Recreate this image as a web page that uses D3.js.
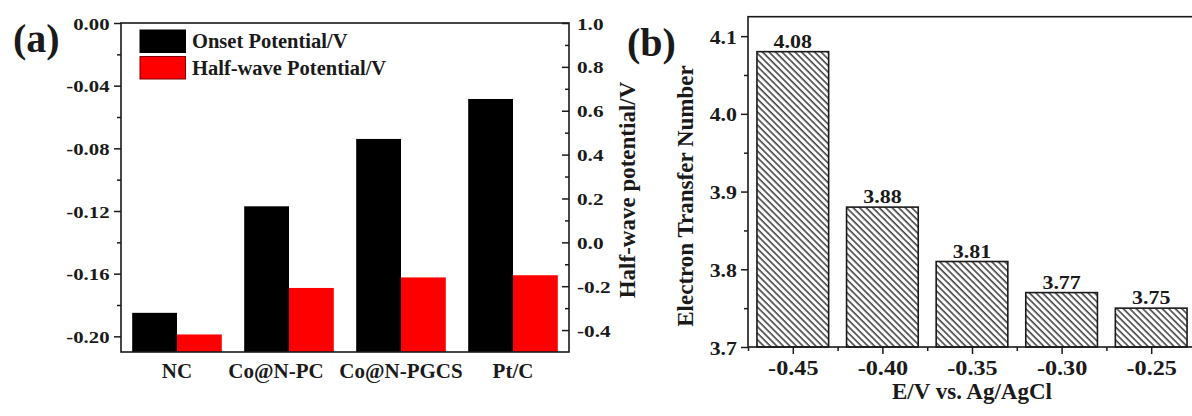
<!DOCTYPE html>
<html>
<head>
<meta charset="utf-8">
<script src="https://cdn.jsdelivr.net/npm/d3@7"></script>
<style>
  body { margin: 0; background: #fff; }
  svg { display: block; font-family: "Liberation Serif", "Times New Roman", serif; font-weight: bold; }
</style>
</head>
<body>
<script>
// panel (a) data
const samples = ["NC", "Co@N-PC", "Co@N-PGCS", "Pt/C"];
const onsetPotential = [-0.185, -0.117, -0.074, -0.0485];
const halfWavePotential = [-0.42, -0.208, -0.16, -0.15];
const legendLabels = ["Onset Potential/V", "Half-wave Potential/V"];
const leftTicks = [0, -0.04, -0.08, -0.12, -0.16, -0.20];
const rightTicks = [1.0, 0.8, 0.6, 0.4, 0.2, 0.0, -0.2, -0.4];

// panel (b) data
const potentials = [-0.45, -0.40, -0.35, -0.30, -0.25];
const electronNumber = [4.08, 3.88, 3.81, 3.77, 3.75];
const bTicksY = [3.7, 3.8, 3.9, 4.0, 4.1];

const colors = ["#000000", "#ff0000"];
const ink = "#1a1a1a";
const fmt = f => d => d3.format(f)(d).replace("\u2212", "-");

const svg = d3.select("body").append("svg")
  .attr("width", 1192)
  .attr("height", 416);

// hatch pattern for panel (b)
svg.append("defs").append("pattern")
  .attr("id", "hatch")
  .attr("patternUnits", "userSpaceOnUse")
  .attr("width", 4.6).attr("height", 10)
  .attr("patternTransform", "rotate(-45)")
  .append("line")
  .attr("x1", 1).attr("x2", 1).attr("y1", 0).attr("y2", 10)
  .attr("stroke", ink).attr("stroke-width", 1.3);

// minor tick group: no labels, no domain line
function styleMinor(g) {
  g.attr("font-family", null).attr("font-size", null);
  g.select(".domain").remove();
  g.selectAll("line").attr("stroke", ink).attr("stroke-width", 1.5);
}

// restyle tick labels (the numerals in the figure are a bit wide)
function styleTicks(g, size, sx, dx, dy, anchor) {
  g.attr("font-family", null).attr("font-size", null);
  g.select(".domain").remove();
  g.selectAll(".tick line").attr("stroke", ink).attr("stroke-width", 1.5);
  g.selectAll(".tick text")
    .attr("x", 0).attr("y", 0).attr("dy", 0)
    .attr("fill", ink)
    .style("font-size", size + "px")
    .attr("text-anchor", anchor)
    .attr("transform", `translate(${dx},${dy}) scale(${sx},1)`);
}

// ---------------- panel (a) ----------------
const a = { left: 121, right: 569, top: 23, bottom: 352 };

const x0 = d3.scaleBand().domain(samples)
  .range([a.left, a.right]).paddingInner(0.2).paddingOuter(0.1);
const x1 = d3.scaleBand().domain([0, 1]).range([0, x0.bandwidth()]);
const yL = d3.scaleLinear().domain([-0.21, 0]).range([a.bottom, a.top]);
const yR = d3.scaleLinear().domain([-0.5, 1.0]).range([a.bottom, a.top]);

const ga = svg.append("g");

ga.selectAll(".onset").data(onsetPotential).join("rect")
  .attr("x", (d, i) => x0(samples[i]) + x1(0))
  .attr("width", x1.bandwidth())
  .attr("y", d => yL(d))
  .attr("height", d => a.bottom - yL(d))
  .attr("fill", colors[0]);

ga.selectAll(".half").data(halfWavePotential).join("rect")
  .attr("x", (d, i) => x0(samples[i]) + x1(1))
  .attr("width", x1.bandwidth())
  .attr("y", d => yR(d))
  .attr("height", d => a.bottom - yR(d))
  .attr("fill", colors[1]);

// left axis (outward ticks)
ga.append("g").attr("transform", `translate(${a.left},0)`)
  .call(d3.axisLeft(yL).tickValues(d3.range(-0.02, -0.21, -0.04)).tickSize(4).tickFormat(""))
  .call(styleMinor);
ga.append("g").attr("transform", `translate(${a.left},0)`)
  .call(d3.axisLeft(yL).tickValues(leftTicks).tickSize(7).tickFormat(fmt(".2f")))
  .call(g => styleTicks(g, 17, 1.22, -11.5, 6, "end"));

// right axis (inward ticks)
ga.append("g").attr("transform", `translate(${a.right},0)`)
  .call(d3.axisRight(yR).tickValues(d3.range(-0.3, 1.0, 0.2)).tickSize(-4).tickFormat(""))
  .call(styleMinor);
ga.append("g").attr("transform", `translate(${a.right},0)`)
  .call(d3.axisRight(yR).tickValues(rightTicks).tickSize(-7).tickFormat(fmt(".1f")))
  .call(g => styleTicks(g, 17, 1.25, 8, 6, "start"));

// bottom category axis (no ticks); the 2nd label sits a bit left in the original
ga.append("g").attr("transform", `translate(0,${a.bottom})`)
  .call(d3.axisBottom(x0).tickSize(0))
  .call(g => styleTicks(g, 21, 1, 0, 26, "middle"))
  .call(g => g.selectAll(".tick text").filter(d => d === "Co@N-PC")
    .attr("transform", "translate(-13,26)"));

ga.append("rect")
  .attr("x", a.left).attr("y", a.top)
  .attr("width", a.right - a.left).attr("height", a.bottom - a.top)
  .attr("fill", "none").attr("stroke", ink).attr("stroke-width", 1.6);

// legend
const leg = ga.append("g").attr("transform", "translate(140,30)");
legendLabels.forEach((lab, i) => {
  leg.append("rect")
    .attr("x", 0).attr("y", i * 26.5)
    .attr("width", 45.5).attr("height", 22.5)
    .attr("fill", colors[i])
    .attr("stroke", i === 0 ? "#000" : "#7a0000").attr("stroke-width", 1);
  leg.append("text")
    .attr("x", 52).attr("y", i * 26.5 + 18)
    .style("font-size", "20.5px").attr("fill", ink)
    .text(lab);
});

ga.append("text")
  .attr("transform", "translate(635,190) rotate(-90)")
  .attr("text-anchor", "middle")
  .style("font-size", "23px").attr("fill", ink)
  .text("Half-wave potential/V");

ga.append("text")
  .attr("x", 13).attr("y", 52)
  .style("font-size", "40px").attr("fill", ink)
  .text("(a)");

// ---------------- panel (b) ----------------
const b = { left: 748, right: 1196, top: 16.7, bottom: 347 };
const barW = 0.04;

const xb = d3.scaleLinear().domain([-0.475, -0.225]).range([b.left, b.right]);
const yb = d3.scaleLinear().domain([3.7, 4.125]).range([b.bottom, b.top]);

const gb = svg.append("g");

gb.selectAll(".nbar").data(electronNumber).join("rect")
  .attr("x", (d, i) => xb(potentials[i] - barW / 2))
  .attr("width", xb(barW) - xb(0))
  .attr("y", d => yb(d))
  .attr("height", d => b.bottom - yb(d))
  .attr("fill", "url(#hatch)")
  .attr("stroke", ink).attr("stroke-width", 1.6);

gb.selectAll(".nlab").data(electronNumber).join("text")
  .attr("text-anchor", "middle")
  .attr("transform", (d, i) => `translate(${xb(potentials[i])},${yb(d) - 4}) scale(1.22,1)`)
  .style("font-size", "18px").attr("fill", ink)
  .text(d => d.toFixed(2));

// y axis
gb.append("g").attr("transform", `translate(${b.left},0)`)
  .call(d3.axisLeft(yb).tickValues(d3.range(3.75, 4.12, 0.1)).tickSize(4).tickFormat(""))
  .call(styleMinor);
gb.append("g").attr("transform", `translate(${b.left},0)`)
  .call(d3.axisLeft(yb).tickValues(bTicksY).tickSize(7).tickFormat(fmt(".1f")))
  .call(g => styleTicks(g, 19, 1.15, -11, 7, "end"));

// x axis
gb.append("g").attr("transform", `translate(0,${b.bottom})`)
  .call(d3.axisBottom(xb).tickValues(d3.range(-0.475, -0.2, 0.05)).tickSize(4).tickFormat(""))
  .call(styleMinor);
gb.append("g").attr("transform", `translate(0,${b.bottom})`)
  .call(d3.axisBottom(xb).tickValues(potentials).tickSize(7).tickFormat(fmt(".2f")))
  .call(g => styleTicks(g, 20.5, 1.18, 0, 27.5, "middle"));

gb.append("rect")
  .attr("x", b.left).attr("y", b.top)
  .attr("width", b.right - b.left).attr("height", b.bottom - b.top)
  .attr("fill", "none").attr("stroke", ink).attr("stroke-width", 1.6);

gb.append("text")
  .attr("x", (b.left + b.right) / 2).attr("y", 398.5)
  .attr("text-anchor", "middle")
  .style("font-size", "23px").attr("fill", ink)
  .text("E/V vs. Ag/AgCl");

gb.append("text")
  .attr("transform", "translate(693,196) rotate(-90)")
  .attr("text-anchor", "middle")
  .style("font-size", "23px").attr("fill", ink)
  .text("Electron Transfer Number");

gb.append("text")
  .attr("x", 627).attr("y", 56)
  .style("font-size", "40px").attr("fill", ink)
  .text("(b)");
</script>
</body>
</html>
